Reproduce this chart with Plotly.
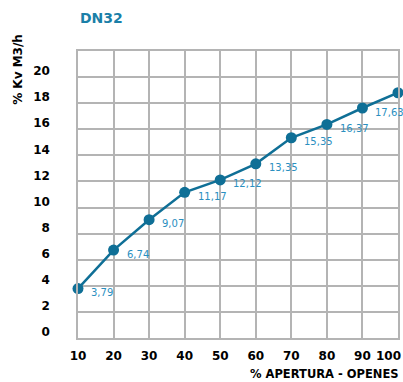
import plotly.graph_objects as go

apertura = [10, 20, 30, 40, 50, 60, 70, 80, 90, 100]
kv = [3.79, 6.74, 9.07, 11.17, 12.12, 13.35, 15.35, 16.37, 17.63, 18.8]
labels = ["3,79", "6,74", "9,07", "11,17", "12,12", "13,35", "15,35", "16,37", "17,63", ""]
y_ticks = [0, 2, 4, 6, 8, 10, 12, 14, 16, 18, 20]
x_ticks = [10, 20, 30, 40, 50, 60, 70, 80, 90, 100]

line_color = "#0f6f96"
label_color = "#2a8fbf"
grid_color = "#b4b4b4"
font_family = "DejaVu Sans"

fig = go.Figure()
fig.add_trace(go.Scatter(
    x=apertura, y=kv, mode="lines+markers",
    line=dict(color=line_color, width=2.5),
    marker=dict(color=line_color, size=11),
    cliponaxis=False, hoverinfo="skip", showlegend=False,
))

annotations = []
for xv, yv, lab in zip(apertura, kv, labels):
    if lab:
        annotations.append(dict(
            x=xv, y=yv, text=lab, showarrow=False, xanchor="left", yanchor="middle",
            xshift=11, yshift=-4, font=dict(family=font_family, size=10, color=label_color),
        ))

annotations.append(dict(
    xref="paper", yref="paper", x=0.0, y=1.115, text="<b>DN32</b>", showarrow=False,
    xanchor="left", yanchor="middle", font=dict(family=font_family, size=14, color="#1a7fa8"),
))
annotations.append(dict(
    xref="paper", yref="paper", x=-0.19, y=0.935, text="<b>% Kv M3/h</b>", showarrow=False,
    textangle=-90, xanchor="center", yanchor="middle", font=dict(family=font_family, size=12, color="black"),
))
annotations.append(dict(
    xref="paper", yref="paper", x=1.01, y=-0.125, text="<b>% APERTURA - OPENES</b>", showarrow=False,
    xanchor="right", yanchor="middle", font=dict(family=font_family, size=11.5, color="black"),
))

x_ticktext = [f"<b>{v}</b>" for v in x_ticks]
x_ticktext[-1] = f"<b>{x_ticks[-1]}</b>\u00a0\u00a0\u00a0\u00a0\u00a0"

fig.update_layout(
    width=403, height=382,
    margin=dict(l=78, r=5, t=51, b=44, autoexpand=False),
    paper_bgcolor="white", plot_bgcolor="white",
    font=dict(family=font_family),
    annotations=annotations,
    xaxis=dict(
        range=[10, 100], tickvals=x_ticks, ticktext=x_ticktext,
        showgrid=True, gridcolor=grid_color, gridwidth=1.5,
        showline=True, linecolor=grid_color, linewidth=1.5, mirror=True,
        zeroline=False, ticks="", ticklabelstandoff=6, automargin=False,
        ticklabeloverflow="allow",
        tickfont=dict(family=font_family, size=12, color="black"),
    ),
    yaxis=dict(
        range=[0, 22], tickmode="array", tickvals=y_ticks, ticktext=[f"<b>{v}</b>" for v in y_ticks],
        showgrid=True, gridcolor=grid_color, gridwidth=1.5,
        showline=True, linecolor=grid_color, linewidth=1.5, mirror=True,
        zeroline=False, ticks="", ticklabelstandoff=24, ticklabelshift=-6, automargin=False,
        ticklabeloverflow="allow",
        tickfont=dict(family=font_family, size=12, color="black"),
    ),
)

fig.write_html("out.html", config={"displayModeBar": False},
               post_script="document.body.style.margin='0';document.body.style.overflow='hidden';")
